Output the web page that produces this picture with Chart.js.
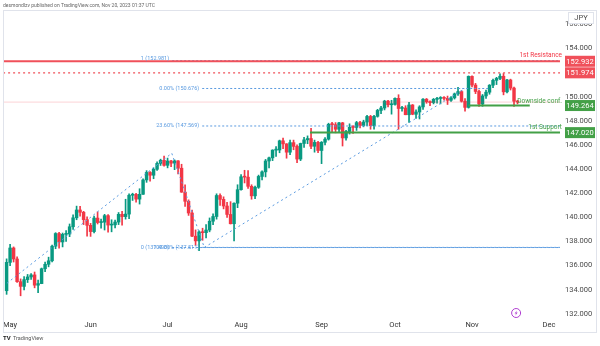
<!DOCTYPE html>
<html>
<head>
<meta charset="utf-8">
<script src="https://cdn.jsdelivr.net/npm/chart.js@4.4.0/dist/chart.umd.min.js"></script>
<style>
  html, body { margin: 0; padding: 0; background: #fff; }
  #wrap { position: relative; width: 600px; height: 346px; }
</style>
</head>
<body>
<div id="wrap"><canvas id="usdjpy"></canvas></div>
<script>
// USD/JPY daily candles, 28 Apr - 20 Nov 2023 (one entry per trading day)
const dates = [
  "04-28",
  "05-01","05-02","05-03","05-04","05-05","05-08","05-09","05-10","05-11","05-12",
  "05-15","05-16","05-17","05-18","05-19","05-22","05-23","05-24","05-25","05-26",
  "05-29","05-30","05-31",
  "06-01","06-02","06-05","06-06","06-07","06-08","06-09","06-12","06-13","06-14",
  "06-15","06-16","06-19","06-20","06-21","06-22","06-23","06-26","06-27","06-28",
  "06-29","06-30",
  "07-03","07-04","07-05","07-06","07-07","07-10","07-11","07-12","07-13","07-14",
  "07-17","07-18","07-19","07-20","07-21","07-24","07-25","07-26","07-27","07-28",
  "07-31",
  "08-01","08-02","08-03","08-04","08-07","08-08","08-09","08-10","08-11","08-14",
  "08-15","08-16","08-17","08-18","08-21","08-22","08-23","08-24","08-25","08-28",
  "08-29","08-30","08-31",
  "09-01","09-04","09-05","09-06","09-07","09-08","09-11","09-12","09-13","09-14",
  "09-15","09-18","09-19","09-20","09-21","09-22","09-25","09-26","09-27","09-28",
  "09-29",
  "10-02","10-03","10-04","10-05","10-06","10-09","10-10","10-11","10-12","10-13",
  "10-16","10-17","10-18","10-19","10-20","10-23","10-24","10-25","10-26","10-27",
  "10-30","10-31",
  "11-01","11-02","11-03","11-06","11-07","11-08","11-09","11-10","11-13","11-14",
  "11-15","11-16","11-17","11-20"
];
const opens = [
  133.92,
  136.27,137.46,136.55,134.67,134.28,134.84,135.06,135.23,134.38,134.51,
  135.74,136.11,136.40,137.61,138.66,137.96,138.59,138.62,139.22,139.96,
  140.61,140.42,139.81,
  139.34,138.82,139.94,139.57,139.60,140.14,139.36,139.38,139.61,140.25,
  140.06,140.27,141.83,141.90,141.51,141.91,143.10,143.72,143.49,143.98,
  144.47,144.73,
  144.31,144.67,144.49,144.68,144.07,142.09,141.33,140.36,138.44,138.05,
  138.79,138.73,138.95,139.68,140.07,141.81,141.49,140.94,140.24,139.47,
  141.17,
  142.29,143.36,143.33,142.57,141.78,142.49,143.39,143.77,144.67,144.93,
  145.57,145.58,146.34,146.09,145.40,146.19,145.88,144.83,146.12,146.42,
  146.53,145.89,146.21,
  145.54,146.22,146.48,147.71,147.68,147.30,147.83,146.58,147.11,147.46,
  147.45,147.85,147.61,147.90,148.36,147.60,148.37,148.86,149.06,149.63,
  149.33,
  149.36,149.86,149.02,149.06,148.50,149.31,148.54,148.73,149.15,149.79,
  149.57,149.51,149.78,149.85,149.87,149.86,149.70,149.90,150.23,150.42,
  149.62,149.11,
  151.68,150.96,150.43,149.39,150.06,150.37,150.95,151.35,151.51,151.69,
  150.40,151.38,150.71,149.62
];
const highs = [
  136.56,
  137.77,137.55,136.72,134.90,135.10,135.27,135.34,135.47,134.80,135.80,
  136.30,136.70,137.70,138.73,138.75,138.70,138.90,139.45,140.20,140.93,
  140.92,140.50,140.05,
  139.50,140.10,140.45,139.85,140.25,140.22,139.80,139.78,140.40,140.50,
  141.50,141.95,142.00,142.00,142.37,143.20,143.87,143.80,144.10,144.60,
  144.82,145.07,
  144.91,144.73,144.76,144.70,144.40,142.70,141.45,140.60,138.96,138.89,
  139.10,139.40,139.95,140.30,141.95,141.95,141.70,141.25,141.30,141.20,
  142.70,
  143.55,143.90,143.88,142.70,142.60,143.50,143.85,144.80,145.00,145.60,
  145.86,146.40,146.56,146.10,146.40,146.40,146.00,146.15,146.63,146.75,
  147.37,146.40,146.30,
  146.28,146.60,147.80,147.87,147.85,147.88,147.87,147.20,147.75,147.60,
  147.95,147.95,148.05,148.45,148.45,148.46,148.95,149.20,149.70,149.70,
  149.70,
  149.90,150.16,149.20,149.25,149.53,149.35,148.90,149.25,149.85,149.85,
  149.65,149.85,149.95,150.00,150.00,150.05,150.00,150.30,150.77,150.50,
  149.85,151.72,
  151.72,151.10,150.55,150.18,150.55,151.00,151.45,151.60,151.90,151.92,
  151.43,151.45,150.80,149.70
];
const lows = [
  133.62,
  136.00,136.30,134.60,133.50,133.98,134.60,134.85,134.16,133.75,134.50,
  135.50,135.90,136.30,137.40,137.45,137.55,138.00,138.40,139.00,139.80,
  140.10,139.40,138.45,
  138.42,138.70,139.45,139.10,138.95,138.77,138.80,139.12,139.40,139.35,
  139.85,139.90,141.40,141.25,141.10,141.90,142.90,143.00,143.20,143.88,
  144.30,144.25,
  144.10,144.20,143.95,143.60,142.07,140.90,140.16,138.40,137.68,137.24,
  138.10,138.30,138.80,139.40,139.85,140.98,140.70,140.00,139.45,138.05,
  140.80,
  142.25,142.85,142.40,141.50,141.55,142.40,143.10,143.35,144.10,144.70,
  145.05,145.35,145.70,144.90,145.20,145.60,144.54,144.70,145.80,146.10,
  145.70,145.40,145.35,
  144.45,146.00,146.40,147.10,147.00,147.10,145.91,146.40,146.90,146.95,
  147.20,147.40,147.50,147.60,147.30,147.30,148.30,148.60,148.90,149.15,
  148.55,
  149.30,147.30,148.80,148.50,147.87,148.50,148.20,148.15,148.95,149.45,
  149.25,149.40,149.45,149.40,149.70,149.35,149.60,149.80,150.10,149.55,
  148.80,149.05,
  150.80,150.25,149.20,149.20,149.85,150.20,150.75,151.00,151.40,150.15,
  150.30,150.55,149.20,149.40
];
const closes = [
  136.27,
  137.46,136.55,134.67,134.28,134.84,135.06,135.23,134.38,134.51,135.74,
  136.11,136.40,137.61,138.66,137.96,138.59,138.62,139.22,139.96,140.61,
  140.42,139.81,139.34,
  138.82,139.94,139.57,139.60,140.14,139.36,139.38,139.61,140.25,140.06,
  140.27,141.83,141.90,141.51,141.91,143.10,143.72,143.49,143.98,144.47,
  144.73,144.31,
  144.67,144.49,144.68,144.07,142.09,141.33,140.36,138.44,138.05,138.79,
  138.73,138.95,139.68,140.07,141.81,141.49,140.94,140.24,139.47,141.17,
  142.29,
  143.36,143.33,142.57,141.78,142.49,143.39,143.77,144.67,144.93,145.57,
  145.58,146.34,146.09,145.40,146.19,145.88,144.83,146.12,146.42,146.53,
  145.89,146.21,145.54,
  146.22,146.48,147.71,147.68,147.30,147.83,146.58,147.11,147.46,147.45,
  147.85,147.61,147.90,148.36,147.60,148.37,148.86,149.06,149.63,149.33,
  149.36,
  149.86,149.02,149.06,148.50,149.31,148.54,148.73,149.15,149.79,149.57,
  149.51,149.78,149.85,149.87,149.86,149.70,149.90,150.23,150.42,149.62,
  149.11,151.68,
  150.96,150.43,149.39,150.06,150.37,150.95,151.35,151.51,151.69,150.40,
  151.38,150.71,149.62,149.55
];

// time axis: trading-day index of each month start
const monthLabels = ["May", "Jun", "Jul", "Aug", "Sep", "Oct", "Nov", "Dec"];
const monthStarts = [1, 24, 46, 67, 90, 111, 133, 155];
const priceTicks = [132, 134, 136, 138, 140, 142, 144, 146, 148, 150, 152, 154, 156];

// drawn levels
const resistance = 152.932;
const resistance2 = 151.974;
const downsideConf = 149.264;
const support = 147.020;
const fibLevels = [150.676, 147.569, 137.511];
const fibLabels = ["0.00% (150.676)", "23.60% (147.569)", "100.00% (137.511)"];
const extLevels = [152.981, 137.498];
const extLabels = ["1 (152.981)", "0 (137.498)"];
// swing points (trading-day index, price)
const extPath = [[0.1, 134.54], [47.2, 145.31], [56.5, 137.50]];
const fibPath = [[56.5, 137.51], [131, 150.676]];

const UP = "#089981";
const DOWN = "#f23645";
const FIB = "#5b9be0";
const GREEN = "#43a047";
const FONT = "Roboto, 'Liberation Sans', sans-serif";
const X_MIN = -1;
const X_MAX = 158.14;

const candleColor = (ctx) =>
  closes[ctx.dataIndex] >= opens[ctx.dataIndex] ? UP : DOWN;

const line = (points, color, width, dash) => ({
  type: "line",
  data: points.map(([x, y]) => ({ x, y })),
  borderColor: color,
  borderWidth: width,
  borderDash: dash || [],
  pointRadius: 0,
  fill: false,
  tension: 0,
  order: 0,
});

const hline = (v, from, to, color, width, dash) =>
  line([[from, v], [to, v]], color, width, dash);

const lastClose = closes[closes.length - 1];

const datasets = [
  hline(resistance, X_MIN, X_MAX, "#f0505a", 2),
  hline(resistance2, X_MIN, X_MAX, "#f0505a", 1.4, [2, 3]),
  hline(extLevels[0], 47.3, X_MAX, FIB, 1, [2, 2]),
  hline(extLevels[1], 47.3, X_MAX, FIB, 1, [2, 2]),
  hline(fibLevels[0], 55.9, 138, FIB, 1, [2, 2]),
  hline(fibLevels[1], 55.9, X_MAX, FIB, 1, [2, 2]),
  hline(fibLevels[2], 55.9, X_MAX, FIB, 1, [2, 2]),
  hline(downsideConf, 132, 149.5, GREEN, 2),
  hline(support, 86.7, X_MAX, GREEN, 2),
  hline(lastClose, X_MIN, X_MAX, "rgba(242,54,69,0.22)", 1),
  line(extPath, FIB, 1, [2, 3]),
  line(fibPath, FIB, 1, [2, 3]),
  {
    label: "wick",
    data: opens.map((o, i) => ({ x: i, y: [lows[i], highs[i]] })),
    backgroundColor: candleColor,
    barThickness: 1,
    grouped: false,
    order: 2,
  },
  {
    label: "body",
    data: opens.map((o, i) => ({ x: i, y: [o, closes[i]] })),
    backgroundColor: candleColor,
    barThickness: 2.8,
    minBarLength: 1,
    grouped: false,
    order: 1,
  },
];

const overlay = {
  id: "overlay",
  afterDatasetsDraw(chart) {
    const { ctx, chartArea } = chart;
    const xs = chart.scales.x;
    const ys = chart.scales.y;
    ctx.save();
    ctx.textBaseline = "middle";

    // fib labels
    ctx.font = `5.5px ${FONT}`;
    ctx.fillStyle = FIB;
    ctx.textAlign = "right";
    ctx.fillText(extLabels[0], xs.getPixelForValue(47.3) - 3, ys.getPixelForValue(extLevels[0]) - 2);
    ctx.fillText(extLabels[1], xs.getPixelForValue(47.3) - 3, ys.getPixelForValue(extLevels[1]));
    fibLevels.forEach((v, i) => {
      ctx.fillText(fibLabels[i], xs.getPixelForValue(55.9) - 3, ys.getPixelForValue(v));
    });

    // level names
    ctx.font = `6.5px ${FONT}`;
    ctx.fillStyle = DOWN;
    ctx.fillText("1st Resistance", chartArea.right + 2, ys.getPixelForValue(resistance) - 6);
    ctx.fillStyle = GREEN;
    ctx.fillText("Downside conf.", chartArea.right + 2, ys.getPixelForValue(downsideConf) - 4.5);
    ctx.fillText("1st Support", chartArea.right + 2, ys.getPixelForValue(support) - 5.5);

    // events marker
    const ex = xs.getPixelForValue(145.6);
    ctx.strokeStyle = "#b03fd1";
    ctx.lineWidth = 1;
    ctx.beginPath();
    ctx.arc(ex, 313, 4.5, 0, Math.PI * 2);
    ctx.stroke();
    ctx.fillStyle = "#b03fd1";
    ctx.beginPath();
    ctx.moveTo(ex + 0.8, 310.5);
    ctx.lineTo(ex - 1.5, 313.5);
    ctx.lineTo(ex, 313.5);
    ctx.lineTo(ex - 0.8, 315.8);
    ctx.lineTo(ex + 1.5, 312.5);
    ctx.lineTo(ex, 312.5);
    ctx.closePath();
    ctx.fill();
    ctx.restore();
  },
  afterDraw(chart) {
    const { ctx } = chart;
    const ys = chart.scales.y;
    ctx.save();

    // frame
    ctx.strokeStyle = "#e0e3eb";
    ctx.lineWidth = 1;
    ctx.strokeRect(3.5, 10.5, 593, 322);

    // price badges
    const badge = (v, color) => {
      const py = ys.getPixelForValue(v);
      ctx.fillStyle = color;
      ctx.fillRect(565, py - 5.5, 30, 11);
      ctx.fillStyle = "#fff";
      ctx.font = `7.5px ${FONT}`;
      ctx.textAlign = "center";
      ctx.textBaseline = "middle";
      ctx.fillText(v.toFixed(3), 580, py + 0.5);
    };
    badge(resistance, "#f0505a");
    badge(resistance2, "#f0505a");
    badge(downsideConf, GREEN);
    badge(support, GREEN);

    // currency box
    ctx.fillStyle = "#fff";
    ctx.fillRect(568, 12, 26, 12);
    ctx.strokeStyle = "#e0e3eb";
    ctx.strokeRect(568.5, 12.5, 25, 11);
    ctx.fillStyle = "#4a4a4a";
    ctx.font = `7.5px ${FONT}`;
    ctx.textAlign = "center";
    ctx.textBaseline = "middle";
    ctx.fillText("JPY", 581, 18.5);

    // header and footer
    ctx.textAlign = "left";
    ctx.fillStyle = "#666";
    ctx.font = `5px ${FONT}`;
    ctx.fillText("desmondlzv published on TradingView.com, Nov 20, 2023 01:37 UTC", 3, 5.5);
    ctx.fillStyle = "#222";
    ctx.font = `bold 6px ${FONT}`;
    ctx.fillText("TV", 3, 338.5);
    ctx.fillStyle = "#555";
    ctx.font = `5.5px ${FONT}`;
    ctx.fillText("TradingView", 13, 338.5);
    ctx.restore();
  },
};

new Chart(document.getElementById("usdjpy"), {
  type: "bar",
  data: { datasets },
  options: {
    responsive: true,
    maintainAspectRatio: false,
    animation: false,
    layout: { padding: { left: 3, top: 10, right: 0, bottom: 13 } },
    plugins: {
      legend: { display: false },
      tooltip: { enabled: false },
    },
    scales: {
      x: {
        type: "linear",
        min: X_MIN,
        max: X_MAX,
        offset: false,
        grid: { display: false, drawTicks: false },
        border: { display: false },
        afterBuildTicks: (scale) => {
          scale.ticks = monthStarts.map((v) => ({ value: v }));
        },
        afterFit: (scale) => {
          scale.height = 15;
        },
        ticks: {
          autoSkip: false,
          maxRotation: 0,
          padding: 3,
          color: "#333",
          font: { family: FONT, size: 7.5 },
          callback: (v) => monthLabels[monthStarts.indexOf(v)],
        },
      },
      y: {
        type: "linear",
        position: "right",
        min: 131.66,
        max: 157.18,
        grid: { display: false, drawTicks: false },
        border: { display: false },
        afterBuildTicks: (scale) => {
          scale.ticks = priceTicks.map((v) => ({ value: v }));
        },
        afterFit: (scale) => {
          scale.width = 40;
        },
        ticks: {
          padding: 5,
          color: "#4a4a4a",
          font: { family: FONT, size: 7.5 },
          callback: (v) => v.toFixed(3),
        },
      },
    },
  },
  plugins: [overlay],
});
</script>
</body>
</html>
